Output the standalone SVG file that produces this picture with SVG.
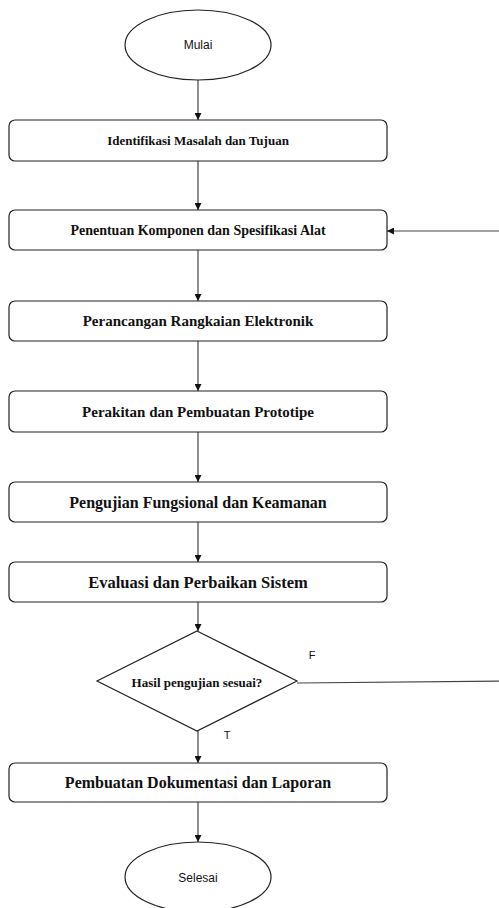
<svg xmlns="http://www.w3.org/2000/svg" width="499" height="908" viewBox="0 0 499 908">
<defs>
<marker id="arr" viewBox="0 0 10 10" refX="10" refY="5" markerWidth="7" markerHeight="7" markerUnits="userSpaceOnUse" orient="auto">
<path d="M0,0 L10,5 L0,10 Z" fill="#111"/>
</marker>
<style>
.node{fill:#fff;stroke:#222;stroke-width:1.2}
.box{font-family:"Liberation Serif","Times New Roman",serif;font-weight:bold;fill:#111;text-anchor:middle;dominant-baseline:central}
.sans{font-family:"Liberation Sans",Arial,sans-serif;fill:#111;text-anchor:middle;dominant-baseline:central}
.conn{fill:none;stroke:#444;stroke-width:1.2;marker-end:url(#arr)}
</style>
</defs>
<rect width="499" height="908" fill="#fff"/>
<g id="connectors">
<path class="conn" d="M198,80 L198,120"/>
<path class="conn" d="M198,161 L198,210"/>
<path class="conn" d="M198,250 L198,301"/>
<path class="conn" d="M198,341 L198,391"/>
<path class="conn" d="M198,432 L198,482"/>
<path class="conn" d="M198,522 L198,562"/>
<path class="conn" d="M198,602 L198,631"/>
<path class="conn" d="M198,731 L198,763"/>
<path class="conn" d="M198,802 L198,842"/>
<path class="conn" d="M297,683 L512,681 L512,231 L387,231"/>
<text class="sans" x="312" y="655" font-size="11">F</text>
<text class="sans" x="227" y="735" font-size="11">T</text>
</g>
<g id="start">
<ellipse class="node" cx="198" cy="45" rx="73" ry="35"/>
<text class="sans" x="198" y="45" font-size="12">Mulai</text>
</g>
<g id="n1">
<rect class="node" x="9" y="120" width="378" height="41" rx="6"/>
<text class="box" x="198" y="140.5" font-size="13">Identifikasi Masalah dan Tujuan</text>
</g>
<g id="n2">
<rect class="node" x="9" y="210" width="378" height="40" rx="6"/>
<text class="box" x="198" y="230" font-size="14">Penentuan Komponen dan Spesifikasi Alat</text>
</g>
<g id="n3">
<rect class="node" x="9" y="301" width="378" height="40" rx="6"/>
<text class="box" x="198" y="321" font-size="15">Perancangan Rangkaian Elektronik</text>
</g>
<g id="n4">
<rect class="node" x="9" y="391" width="378" height="41" rx="6"/>
<text class="box" x="198" y="411.5" font-size="15">Perakitan dan Pembuatan Prototipe</text>
</g>
<g id="n5">
<rect class="node" x="9" y="482" width="378" height="40" rx="6"/>
<text class="box" x="198" y="502" font-size="16">Pengujian Fungsional dan Keamanan</text>
</g>
<g id="n6">
<rect class="node" x="9" y="562" width="378" height="40" rx="6"/>
<text class="box" x="198" y="582" font-size="16.5">Evaluasi dan Perbaikan Sistem</text>
</g>
<g id="decision">
<polygon class="node" points="197,631 297,681 197,731 97,681"/>
<text class="box" x="197" y="682" font-size="13">Hasil pengujian sesuai?</text>
</g>
<g id="n7">
<rect class="node" x="9" y="763" width="378" height="39" rx="6"/>
<text class="box" x="198" y="782.5" font-size="16">Pembuatan Dokumentasi dan Laporan</text>
</g>
<g id="end">
<ellipse class="node" cx="198" cy="877" rx="73" ry="35"/>
<text class="sans" x="198" y="878" font-size="12">Selesai</text>
</g>
</svg>
